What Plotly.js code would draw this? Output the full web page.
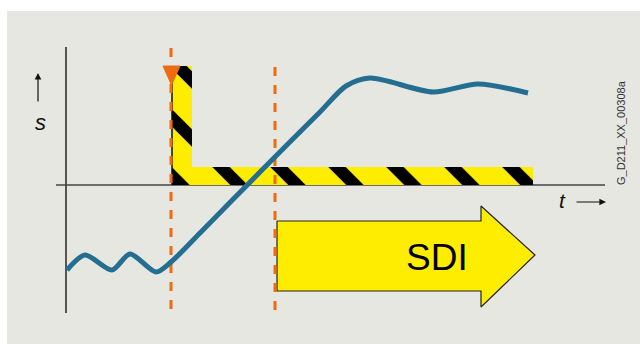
<!DOCTYPE html>
<html>
<head>
<meta charset="utf-8">
<script src="https://cdn.plot.ly/plotly-3.0.1.min.js"></script>
<style>html,body{margin:0;padding:0;background:#fff;}#chart{width:640px;height:344px;}</style>
</head>
<body>
<div id="chart"></div>
<script>
// Displacement curve s(t) (schematic units)
const curveT = [0.1, 1.9, 4.6, 6.4, 9.0, 10.5, 13.4, 19.4, 25.4, 28.0, 30.4, 36.7, 41.2, 46.2];
const curveS = [-8.5, -7.0, -8.5, -6.9, -8.7, -7.7, -4.8, 1.3, 7.3, 9.9, 10.7, 9.3, 10.1, 9.2];

// Hatched L-shaped region
const hatchT = [10.6, 10.6, 12.6, 12.6, 46.7, 46.7, 10.6];
const hatchS = [0, 11.9, 11.9, 1.8, 1.8, 0, 0];

// Orange triangle marker at trigger
const triT = [9.7, 11.4, 10.55, 9.7];
const triS = [11.9, 11.9, 10.0, 11.9];

// Dashed event lines
const eventT = [10.5, 20.9];
const eventTop = [13.7, 11.8];
const eventBottom = -12.8;

// SDI arrow outline
const arrowT = [21.1, 41.5, 41.5, 46.9, 41.5, 41.5, 21.1, 21.1];
const arrowS = [-3.6, -3.6, -2.1, -7.0, -12.2, -10.6, -10.6, -3.6];
const arrowLabel = 'SDI';
const arrowLabelPos = [37.1, -7.2];

// Axes extents
const tAxisRange = [-1.0, 53.9];
const sAxisRange = [-12.8, 13.8];

const axisLabels = {s: 's', t: 't'};
const docId = 'G_D211_XX_00308a';

const traces = [];
traces.push({
  x: hatchT, y: hatchS, type: 'scatter', mode: 'lines', fill: 'toself',
  fillcolor: '#ffed00', line: {width: 0, color: 'rgba(0,0,0,0)'},
  fillpattern: {shape: '\\', bgcolor: '#ffed00', fgcolor: '#000000', size: 41, solidity: 0.3},
  hoverinfo: 'skip'
});
// black left edge of hatched region
traces.push({
  x: [hatchT[0], hatchT[1]], y: [hatchS[0], hatchS[1]], type: 'scatter', mode: 'lines',
  line: {color: '#111', width: 1.5}, hoverinfo: 'skip'
});
// SDI arrow
traces.push({
  x: arrowT, y: arrowS, type: 'scatter', mode: 'lines', fill: 'toself',
  fillcolor: '#ffed00', line: {color: '#222', width: 1.2}, hoverinfo: 'skip'
});
// dashed event lines
eventT.forEach((t, i) => {
  traces.push({
    x: [t, t], y: [eventTop[i], eventBottom], type: 'scatter', mode: 'lines',
    line: {color: '#ee6b12', width: 3, dash: '9px,9px'}, hoverinfo: 'skip'
  });
});
// triangle
traces.push({
  x: triT, y: triS, type: 'scatter', mode: 'lines', fill: 'toself',
  fillcolor: '#ee6b12', line: {color: '#ee6b12', width: 1}, hoverinfo: 'skip'
});
// curve
traces.push({
  x: curveT, y: curveS, type: 'scatter', mode: 'lines',
  line: {color: '#246e91', width: 5, shape: 'spline', smoothing: 0.8}, hoverinfo: 'skip'
});

const layout = {
  width: 640, height: 344,
  margin: {l: 7, r: 0, t: 11, b: 0, pad: 0},
  paper_bgcolor: '#ffffff', plot_bgcolor: '#e7e7e1',
  showlegend: false,
  xaxis: {range: [-5.9, 57.4], visible: false, fixedrange: true},
  yaxis: {range: [-15.9, 17.4], visible: false, fixedrange: true},
  shapes: [
    {type: 'line', layer: 'below', x0: 0, x1: 0, y0: sAxisRange[0], y1: sAxisRange[1], line: {color: '#555', width: 2}},
    {type: 'line', layer: 'below', x0: tAxisRange[0], x1: tAxisRange[1], y0: 0, y1: 0, line: {color: '#444', width: 1.5}}
  ],
  annotations: [
    {x: arrowLabelPos[0], y: arrowLabelPos[1], text: arrowLabel, showarrow: false,
     font: {family: 'Liberation Sans, Arial', size: 37, color: '#000'}},
    {x: -2.6, y: 6.3, text: '<i>' + axisLabels.s + '</i>', showarrow: false,
     font: {family: 'Liberation Sans, Arial', size: 22, color: '#111'}},
    {x: 49.6, y: -1.5, text: '<i>' + axisLabels.t + '</i>', showarrow: false,
     font: {family: 'Liberation Sans, Arial', size: 21, color: '#111'}},
    {x: -2.8, y: 11.2, ax: -2.8, ay: 8.2, axref: 'x', ayref: 'y', text: '', showarrow: true,
     arrowhead: 2, arrowsize: 1.1, arrowwidth: 1.2, arrowcolor: '#111', standoff: 0},
    {x: 54.0, y: -1.7, ax: 50.9, ay: -1.7, axref: 'x', ayref: 'y', text: '', showarrow: true,
     arrowhead: 2, arrowsize: 1.1, arrowwidth: 1.2, arrowcolor: '#111', standoff: 0},
    {x: 55.5, y: 5.2, text: docId, showarrow: false, textangle: -90,
     font: {family: 'Liberation Sans, Arial', size: 11, color: '#333'}}
  ]
};

Plotly.newPlot('chart', traces, layout, {staticPlot: true, displayModeBar: false});
</script>
</body>
</html>
